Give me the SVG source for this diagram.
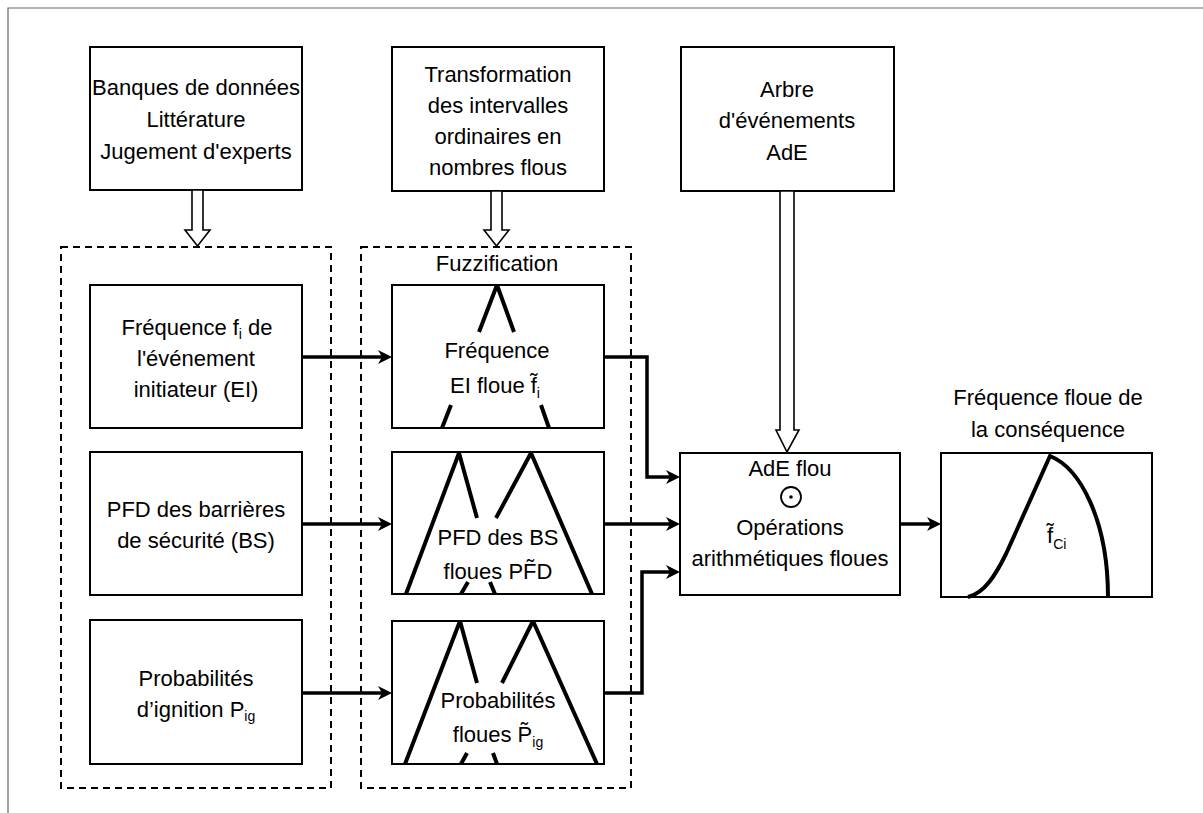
<svg xmlns="http://www.w3.org/2000/svg" width="1203" height="813" viewBox="0 0 1203 813">
  <defs>
    <style>
      .box { fill: #fff; stroke: #000; stroke-width: 2; }
      .grp { fill: none; stroke: #000; stroke-width: 2; stroke-dasharray: 7 5; }
      .t { font-family: "Liberation Sans", Arial, sans-serif; font-size: 22px; fill: #000; text-anchor: middle; }
      .sub { font-size: 14px; }
      .wire { fill: none; stroke: #000; stroke-width: 3.5; marker-end: url(#ah); }
      .hollow { fill: #fff; stroke: #000; stroke-width: 1.6; stroke-linejoin: miter; }
      .mf { fill: none; stroke: #000; stroke-width: 4; stroke-linecap: butt; }
      .frame { fill: none; stroke: #666; stroke-width: 1.2; }
    </style>
    <marker id="ah" markerUnits="userSpaceOnUse" markerWidth="16" markerHeight="16" refX="10" refY="8" orient="auto">
      <path d="M0,1 L14,8 L0,15 L4,8 z" fill="#000"/>
    </marker>
  </defs>

  <!-- page frame -->
  <path class="frame" d="M8,813 L8,8 L1203,8"/>

  <!-- dashed groupings -->
  <g id="group-inputs">
    <rect class="grp" x="61" y="247" width="270" height="541"/>
  </g>
  <g id="group-fuzzification">
    <rect class="grp" x="361" y="247" width="270" height="541"/>
    <text class="t" x="497" y="271">Fuzzification</text>
  </g>

  <!-- top sources -->
  <g id="node-sources">
    <rect class="box" x="90" y="47" width="212" height="143"/>
    <text class="t" x="196" y="95">Banques de données</text>
    <text class="t" x="196" y="127">Littérature</text>
    <text class="t" x="196" y="159">Jugement d'experts</text>
  </g>
  <g id="node-transformation">
    <rect class="box" x="392" y="47" width="212" height="144"/>
    <text class="t" x="498" y="82">Transformation</text>
    <text class="t" x="498" y="113">des intervalles</text>
    <text class="t" x="498" y="144">ordinaires en</text>
    <text class="t" x="498" y="175">nombres flous</text>
  </g>
  <g id="node-event-tree">
    <rect class="box" x="681" y="47" width="213" height="144"/>
    <text class="t" x="787" y="97">Arbre</text>
    <text class="t" x="787" y="128">d'événements</text>
    <text class="t" x="787" y="160">AdE</text>
  </g>

  <!-- crisp inputs -->
  <g id="node-freq">
    <rect class="box" x="90" y="285" width="212" height="143"/>
    <text class="t" x="197" y="335">Fréquence f<tspan class="sub" dy="4">i</tspan><tspan dy="-4"> de</tspan></text>
    <text class="t" x="196" y="366">l'événement</text>
    <text class="t" x="196" y="397">initiateur (EI)</text>
  </g>
  <g id="node-pfd">
    <rect class="box" x="90" y="452" width="212" height="143"/>
    <text class="t" x="196" y="517">PFD des barrières</text>
    <text class="t" x="196" y="548">de sécurité (BS)</text>
  </g>
  <g id="node-pig">
    <rect class="box" x="90" y="620" width="212" height="144"/>
    <text class="t" x="196" y="686">Probabilités</text>
    <text class="t" x="196" y="717">d’ignition P<tspan class="sub" dy="4">ig</tspan></text>
  </g>

  <!-- fuzzy numbers -->
  <g id="node-fuzzy-freq">
    <rect class="box" x="392" y="285" width="212" height="143"/>
    <path class="mf" d="M497,285 L479,332 M497,285 L514,332 M451,405 L442,428 M541,405 L549,428"/>
    <text class="t" x="497" y="358">Fréquence</text>
    <text class="t" x="495" y="393">EI floue f̃<tspan class="sub" dy="5">i</tspan></text>
  </g>
  <g id="node-fuzzy-pfd">
    <rect class="box" x="392" y="452" width="212" height="142"/>
    <path class="mf" d="M459,453 L406,594 M459,453 L477,518 M490,582 L495,594 M531,453 L496,518 M468,582 L461,594 M531,453 L592,594"/>
    <text class="t" x="498" y="545">PFD des BS</text>
    <text class="t" x="498" y="579">floues PF̃D</text>
  </g>
  <g id="node-fuzzy-pig">
    <rect class="box" x="392" y="621" width="212" height="143"/>
    <path class="mf" d="M460,621 L405,764 M460,621 L477,683 M493,753 L497,764 M533,621 L502,683 M467,753 L461,764 M533,621 L597,764"/>
    <text class="t" x="498" y="708">Probabilités</text>
    <text class="t" x="498" y="742">floues P̃<tspan class="sub" dy="5">ig</tspan></text>
  </g>

  <!-- fuzzy event tree -->
  <g id="node-fuzzy-tree">
    <rect class="box" x="680" y="453" width="220" height="142"/>
    <text class="t" x="790" y="476">AdE flou</text>
    <circle cx="791" cy="497" r="10" fill="none" stroke="#000" stroke-width="1.8"/>
    <circle cx="791" cy="497" r="1.8" fill="#000"/>
    <text class="t" x="790" y="535">Opérations</text>
    <text class="t" x="790" y="566">arithmétiques floues</text>
  </g>

  <!-- consequence -->
  <g id="node-consequence">
    <text class="t" x="1048" y="405">Fréquence floue de</text>
    <text class="t" x="1048" y="437">la conséquence</text>
    <rect class="box" x="941" y="453" width="211" height="144"/>
    <path class="mf" d="M968,597 C985,593 996,574 1006,554 L1050,456 C1080,468 1108,520 1108,597" stroke-width="3.5"/>
    <text class="t" x="1047" y="543" style="text-anchor:start">f̃<tspan class="sub" dy="6">Ci</tspan></text>
  </g>

  <!-- connectors -->
  <g id="connectors">
    <polygon class="hollow" points="192,190 203,190 203,230 210,230 197.5,246 185,230 192,230"/>
    <polygon class="hollow" points="491,191 502,191 502,230 509,230 496.5,246 484,230 491,230"/>
    <polygon class="hollow" points="780,191 794,191 794,430 799,430 787,452 776,430 780,430"/>

    <path class="wire" d="M302,357 L388,357"/>
    <path class="wire" d="M302,524 L388,524"/>
    <path class="wire" d="M302,693 L388,693"/>

    <path class="wire" d="M604,357 L647,357 L647,477 L676,477"/>
    <path class="wire" d="M604,524 L676,524"/>
    <path class="wire" d="M604,693 L642,693 L642,572 L676,572"/>

    <path class="wire" d="M900,524 L937,524"/>
  </g>
</svg>
